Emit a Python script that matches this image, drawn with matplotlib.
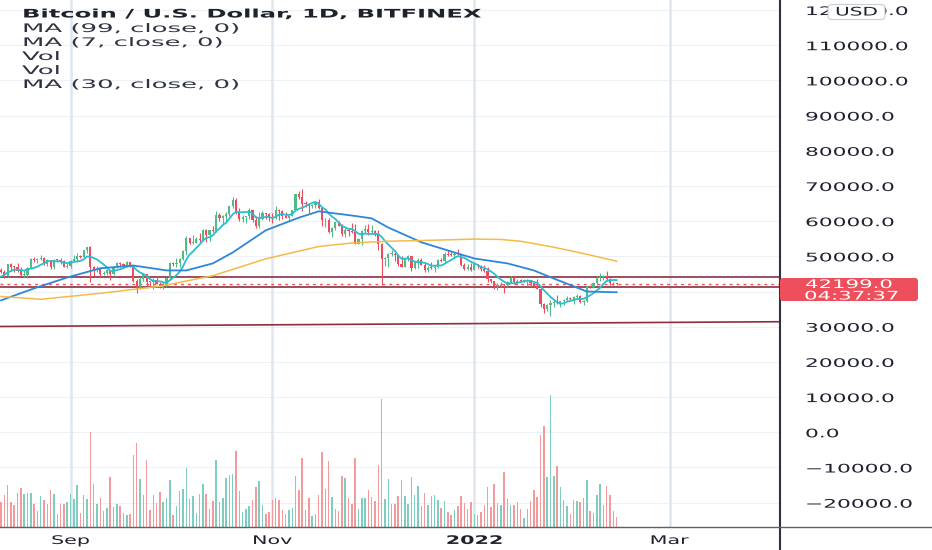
import numpy as np
import pandas as pd
import matplotlib
matplotlib.use('Agg')
import matplotlib.pyplot as plt
import matplotlib.dates as mdates
from matplotlib.patches import FancyBboxPatch
from matplotlib.lines import Line2D
from matplotlib.patheffects import AbstractPathEffect
from matplotlib.transforms import Affine2D, IdentityTransform

# daily BTC/USD candles (thousands of USD), 2021-08-11 .. 2022-02-13
start_date = '2021-08-11'
first_open_k = 46.0
closes_k = [
    45.6, 44.4, 47.8, 47.1, 47.0, 45.9, 44.7, 44.8, 46.7, 49.3,
    48.9, 49.3, 49.5, 47.7, 48.9, 47.0, 49.0, 48.9, 48.8, 47.0,
    47.2, 48.8, 49.3, 50.0, 49.9, 51.8, 52.7, 46.9, 46.1, 46.4,
    44.9, 45.2, 46.1, 44.9, 47.1, 48.2, 47.8, 47.3, 48.3, 47.3,
    43.0, 40.7, 43.6, 44.9, 42.8, 42.7, 43.2, 42.2, 41.0, 41.5,
    43.8, 48.1, 47.7, 48.2, 49.2, 51.5, 55.3, 53.8, 53.9, 55.0,
    54.7, 57.5, 56.0, 57.4, 57.3, 61.7, 60.9, 61.5, 62.0, 64.3,
    66.0, 62.2, 60.7, 61.3, 61.4, 63.1, 60.4, 58.5, 60.6, 62.3,
    61.9, 61.3, 61.0, 63.2, 62.9, 61.4, 61.0, 61.5, 63.3, 67.6,
    66.9, 64.9, 64.8, 64.2, 64.5, 65.5, 63.6, 60.2, 60.4, 56.9,
    58.1, 59.7, 58.7, 56.3, 57.6, 57.2, 57.0, 53.6, 54.8, 57.3,
    57.8, 57.0, 57.2, 56.5, 53.6, 49.2, 49.4, 50.6, 50.7, 50.5,
    47.7, 47.1, 49.3, 50.1, 46.7, 48.4, 48.9, 47.6, 46.2, 46.8,
    46.7, 46.9, 49.0, 48.6, 50.8, 50.4, 50.3, 50.7, 50.6, 47.6,
    46.5, 47.1, 46.2, 47.7, 47.3, 46.4, 45.9, 43.5, 43.1, 41.6,
    41.7, 41.9, 41.8, 42.7, 43.9, 42.6, 43.1, 43.0, 43.1, 43.3,
    42.4, 41.7, 40.7, 36.5, 35.1, 36.3, 36.7, 36.9, 36.8, 37.2,
    37.7, 38.2, 37.9, 38.5, 38.7, 37.0, 37.3, 41.6, 41.4, 42.4,
    43.8, 44.1, 44.4, 43.6, 42.4, 42.3, 42.199,
]
highs_k = [
    46.7, 46.2, 47.9, 48.1, 47.4, 48.0, 47.1, 46.0, 47.0, 49.4,
    49.8, 49.5, 50.5, 49.9, 49.3, 49.0, 49.2, 49.3, 49.6, 48.9,
    48.2, 49.0, 50.4, 51.0, 50.5, 51.9, 52.8, 52.9, 47.4, 47.3,
    47.0, 45.9, 46.4, 46.2, 47.2, 48.5, 48.4, 48.0, 48.8, 48.4,
    47.4, 43.6, 44.0, 45.0, 45.0, 42.9, 43.9, 44.3, 42.8, 42.6,
    44.1, 48.4, 48.3, 49.4, 49.5, 51.9, 55.8, 55.3, 56.1, 55.5,
    56.5, 57.9, 57.7, 57.6, 58.5, 62.9, 62.3, 61.7, 62.6, 64.4,
    67.0, 66.6, 63.7, 61.7, 61.5, 63.7, 63.3, 61.5, 62.5, 62.9,
    62.3, 62.4, 62.4, 64.2, 63.5, 63.1, 62.6, 61.6, 63.3, 67.8,
    68.6, 69.0, 65.6, 65.0, 64.9, 65.6, 66.4, 63.6, 60.8, 60.9,
    58.4, 59.9, 60.0, 59.3, 58.0, 57.8, 59.4, 59.2, 55.2, 57.4,
    58.9, 59.2, 59.0, 57.4, 57.6, 53.8, 49.7, 51.0, 51.9, 51.2,
    50.8, 50.1, 49.5, 50.4, 50.2, 48.6, 49.4, 49.4, 48.0, 47.3,
    48.3, 47.5, 49.3, 49.5, 51.3, 51.7, 51.1, 51.2, 52.0, 50.7,
    48.1, 47.9, 48.0, 47.9, 47.9, 47.5, 47.5, 47.0, 43.7, 43.1,
    42.3, 42.8, 42.2, 43.0, 44.3, 44.5, 43.5, 43.7, 43.5, 43.5,
    43.4, 42.6, 43.5, 41.1, 36.8, 36.5, 37.5, 37.5, 38.9, 37.2,
    38.0, 38.7, 38.4, 38.7, 39.3, 38.9, 37.6, 41.7, 41.9, 42.6,
    44.5, 45.4, 44.8, 45.8, 43.9, 42.8, 42.5,
]
lows_k = [
    45.4, 43.8, 44.2, 45.8, 45.6, 45.6, 44.4, 44.2, 43.9, 46.6,
    48.3, 48.2, 49.1, 47.6, 47.2, 46.3, 46.5, 48.4, 47.8, 46.9,
    46.7, 46.6, 48.6, 48.4, 49.5, 49.5, 50.9, 42.8, 44.5, 45.5,
    44.2, 44.8, 44.8, 43.4, 44.7, 46.8, 47.0, 46.8, 47.1, 47.0,
    42.6, 39.6, 40.6, 43.1, 40.9, 41.7, 40.8, 42.1, 40.9, 40.8,
    41.4, 43.3, 47.4, 47.1, 46.9, 49.1, 50.5, 53.4, 53.6, 53.7,
    54.1, 54.4, 54.0, 54.3, 56.8, 56.9, 60.1, 58.9, 60.0, 61.4,
    63.6, 62.0, 60.0, 59.7, 59.5, 60.7, 59.8, 58.1, 58.0, 60.2,
    60.7, 60.0, 59.5, 60.7, 60.4, 60.7, 60.8, 60.1, 61.4, 63.3,
    66.4, 63.0, 64.1, 62.3, 63.6, 63.6, 63.4, 58.6, 58.4, 56.5,
    55.6, 57.4, 58.6, 55.7, 55.4, 55.9, 56.7, 53.5, 53.4, 53.3,
    56.7, 56.1, 56.5, 55.8, 51.7, 42.0, 47.4, 47.0, 50.0, 48.7,
    47.4, 46.9, 46.9, 48.7, 45.9, 46.3, 46.6, 47.5, 45.6, 45.6,
    46.5, 45.6, 46.7, 48.5, 48.0, 50.0, 50.1, 49.5, 50.4, 47.3,
    46.0, 46.0, 45.7, 46.2, 46.6, 45.7, 45.5, 42.6, 42.5, 40.8,
    40.5, 41.2, 39.7, 41.3, 42.5, 42.3, 41.8, 42.6, 42.6, 41.6,
    41.3, 41.2, 40.6, 35.5, 34.0, 34.6, 33.0, 35.7, 36.4, 35.5,
    36.2, 37.4, 37.4, 36.6, 38.1, 36.7, 36.3, 37.0, 40.9, 41.1,
    42.0, 43.1, 43.2, 43.3, 41.8, 41.9, 41.8,
]
volume = [
    76, 96, 126, 75, 66, 103, 117, 100, 102, 102,
    68, 48, 92, 82, 70, 111, 99, 39, 70, 70,
    75, 100, 85, 125, 41, 95, 83, 285, 129, 68,
    88, 48, 58, 150, 61, 68, 63, 43, 36, 40,
    215, 253, 143, 96, 201, 51, 95, 73, 105, 76,
    86, 142, 36, 62, 107, 113, 178, 85, 93, 43,
    100, 128, 100, 54, 78, 201, 75, 88, 146, 156,
    158, 228, 108, 46, 53, 63, 81, 121, 138, 66,
    40, 44, 81, 88, 81, 50, 38, 50, 56, 153,
    110, 208, 50, 87, 33, 40, 96,
    225, 115, 198, 90, 55, 48, 152, 148, 86, 70,
    208, 54, 86, 88, 112, 90, 77, 185, 385, 83,
    144, 70, 70, 92, 140, 92, 68, 150, 95, 122,
    62, 102, 65, 92, 97, 82, 56, 77, 46, 37,
    52, 62, 94, 72, 55, 74, 40, 35, 44, 65,
    120, 60, 128, 72, 65, 165, 83, 67, 67, 75,
    55, 28, 53, 77, 112, 90, 277, 302, 150, 395,
    152, 183, 120, 80, 63, 38, 82, 77, 75, 88,
    142, 47, 42, 97, 130, 65, 123, 97, 47, 30,
]
# closes of the six days before the window (for the 7-day MA)
warmup_closes_k = [40.9, 42.8, 44.6, 43.8, 46.3, 45.6]

ma30_dates = ['2021-08-11', '2021-08-21', '2021-08-31', '2021-09-10', '2021-09-20',
              '2021-09-30', '2021-10-06', '2021-10-14', '2021-10-20', '2021-10-30',
              '2021-11-09', '2021-11-15', '2021-11-25', '2021-12-01', '2021-12-06',
              '2021-12-16', '2021-12-26', '2022-01-01', '2022-01-11', '2022-01-19',
              '2022-01-25', '2022-01-31', '2022-02-04', '2022-02-13']
ma30_k = [37.5, 40.9, 44.0, 46.6, 47.4, 46.0, 46.0, 48.0, 51.1, 57.4,
          61.0, 62.8, 61.6, 60.8, 58.2, 54.0, 51.1, 49.4, 48.0, 46.0,
          43.7, 41.5, 40.0, 39.8]
ma99_dates = ['2021-08-11', '2021-08-23', '2021-09-10', '2021-09-28', '2021-10-14',
              '2021-10-30', '2021-11-15', '2021-11-25', '2021-12-06', '2021-12-16',
              '2022-01-01', '2022-01-09', '2022-01-15', '2022-01-25', '2022-02-04',
              '2022-02-13']
ma99_k = [38.6, 37.8, 39.5, 41.5, 44.5, 49.3, 52.8, 53.8, 54.3, 54.5,
          54.9, 54.8, 54.3, 52.6, 50.6, 48.6]

level_lines_k = [44.2, 41.2]
trend_dates = ['2021-08-10', '2022-04-04']
trend_k = [30.07, 31.43]

price_ticks = list(range(-20000, 130000, 10000))
hidden_tick = 40000          # sits under the last-price tag
month_ticks = ['2021-09-01', '2021-11-01', '2022-01-01', '2022-03-01']
month_labels = ['Sep', 'Nov', '2022', 'Mar']
legend_title = 'Bitcoin / U.S. Dollar, 1D, BITFINEX'
legend_rows = ['MA (99, close, 0)', 'MA (7, close, 0)', 'Vol', 'Vol', 'MA (30, close, 0)']
countdown = '04:37:37'


class Widen(AbstractPathEffect):
    """stretch glyphs horizontally (the screenshot text is wide)"""
    def __init__(self, sx, center=False):
        super().__init__()
        self.sx = sx
        self.center = center

    def draw_path(self, renderer, gc, tpath, affine, rgbFace=None):
        c = 0.0
        if self.center:
            ext = tpath.get_extents()
            c = (ext.x0 + ext.x1) / 2
        t = Affine2D().translate(-c, 0).scale(self.sx, 1).translate(c, 0) + affine
        renderer.draw_path(gc, tpath, t, rgbFace)


W, H = 932, 550
UP, DOWN = '#53b987', '#eb4d5c'
VUP, VDOWN = '#7fcdc1', '#f39a9c'
TXT = '#1e222d'

dates = pd.date_range(start_date, periods=len(closes_k), freq='D')
x = mdates.date2num(dates)
c = np.array(closes_k) * 1000
o = np.array([first_open_k] + closes_k[:-1]) * 1000
h = np.array(highs_k) * 1000
l = np.array(lows_k) * 1000
up = c >= o
ma7 = pd.Series(warmup_closes_k + closes_k).rolling(7).mean().to_numpy()[6:] * 1000

fig = plt.figure(figsize=(W / 100, H / 100), dpi=100)
fig.patch.set_facecolor('white')
ax = fig.add_axes([0, 23 / H, 780 / W, 527 / H])
ax2 = ax.twinx()
ax.yaxis.tick_right()

x0 = x[0]
ax.set_xlim(x0 - 0.3, x0 + 235.35)
ax.set_ylim(-26910, 122850)

# grid
for p in price_ticks:
    ax.axhline(p, color='#eef1f6', lw=0.8, zorder=0)
for d in month_ticks:
    ax.axvline(mdates.date2num(pd.Timestamp(d)), color='#dfe6ed', lw=1.8, zorder=0)

# candles
col = np.where(up, UP, DOWN)
ax.vlines(x, l, h, colors=col, lw=0.8, zorder=3)
ax.bar(x, np.maximum(np.abs(c - o), 250), bottom=np.minimum(o, c), width=0.66,
       color=col, linewidth=0, zorder=3)

# moving averages
ax.plot(x, ma7, color='#2bbdd1', lw=1.3, zorder=4)
ax.plot(mdates.date2num(pd.to_datetime(ma30_dates)), np.array(ma30_k) * 1000,
        color='#2f86d8', lw=1.3, zorder=4)
ax.plot(mdates.date2num(pd.to_datetime(ma99_dates)), np.array(ma99_k) * 1000,
        color='#f5bb47', lw=1.1, zorder=4)

# drawn levels
for lv in level_lines_k:
    ax.axhline(lv * 1000, color='#8e2f40', lw=1.2, zorder=2)
ax.plot(mdates.date2num(pd.to_datetime(trend_dates)), np.array(trend_k) * 1000,
        color='#8e2f40', lw=1.2, zorder=2)
ax.axhline(c[-1], color='#ef5350', lw=1.0, ls=(0, (2, 3)), zorder=2)

# volume
ax2.bar(x, volume, width=0.45, color=np.where(up, VUP, VDOWN), linewidth=0)
ax2.set_ylim(0, 527 * 3)
ax2.set_yticks([])
for a in (ax, ax2):
    for s in a.spines.values():
        s.set_visible(False)

# axes labels
ytick_labels = ['' if p == hidden_tick else f'{p:.1f}'.replace('-', '\u2212')
                for p in price_ticks]
ax.set_yticks(price_ticks, ytick_labels)
ax.tick_params(axis='y', length=0, pad=18, labelsize=8.5, labelcolor=TXT)
for t in ax.get_yticklabels():
    t.set_path_effects([Widen(1.84)])
ax.set_xticks(mdates.date2num(pd.to_datetime(month_ticks)), month_labels)
ax.tick_params(axis='x', length=0, pad=5, labelsize=8.5, labelcolor=TXT)
for t in ax.get_xticklabels():
    t.set_path_effects([Widen(1.75, center=True)])
    if t.get_text() == '2022':
        t.set_fontweight('bold')

# frame lines
fig.add_artist(Line2D([780 / W, 780 / W], [0, 1], transform=fig.transFigure,
                      color='#2f323c', lw=1.5))
fig.add_artist(Line2D([0, 1], [23 / H, 23 / H], transform=fig.transFigure,
                      color='#5d606b', lw=1.0))

# legend block
fig.text(22 / W, 1 - 17.5 / H, legend_title, fontsize=8.5, fontweight='bold',
         color=TXT, va='baseline', path_effects=[Widen(2.05)])
for i, row in enumerate(legend_rows):
    fig.text(22 / W, 1 - (32 + 14 * i) / H, row, fontsize=8.5, color='#2f3241',
             va='baseline', path_effects=[Widen(2.2)])

# last price tag
fig.add_artist(FancyBboxPatch((780, H - 301), 138, 23,
                              boxstyle='round,pad=0,rounding_size=3',
                              transform=IdentityTransform(), fc='#ee4f5c', ec='none',
                              zorder=4))
fig.text(805 / W, 1 - 284.5 / H, f'{c[-1]:.1f}', fontsize=8.5, color='white',
         va='center', zorder=5, path_effects=[Widen(1.8)])
fig.text(804 / W, 1 - 296 / H, countdown, fontsize=8.5, color='white',
         va='center', zorder=5, path_effects=[Widen(1.8)])

# currency box
fig.add_artist(FancyBboxPatch((828, H - 19.5), 57, 15,
                              boxstyle='round,pad=0,rounding_size=4',
                              transform=IdentityTransform(), fc='white', ec='#c9ccd4',
                              lw=0.8, zorder=4))
fig.text(856.5 / W, 1 - 12 / H, 'USD', fontsize=8.5, color=TXT, ha='center',
         va='center', zorder=5, path_effects=[Widen(1.7, center=True)])

fig.savefig('out.png', dpi=100)
